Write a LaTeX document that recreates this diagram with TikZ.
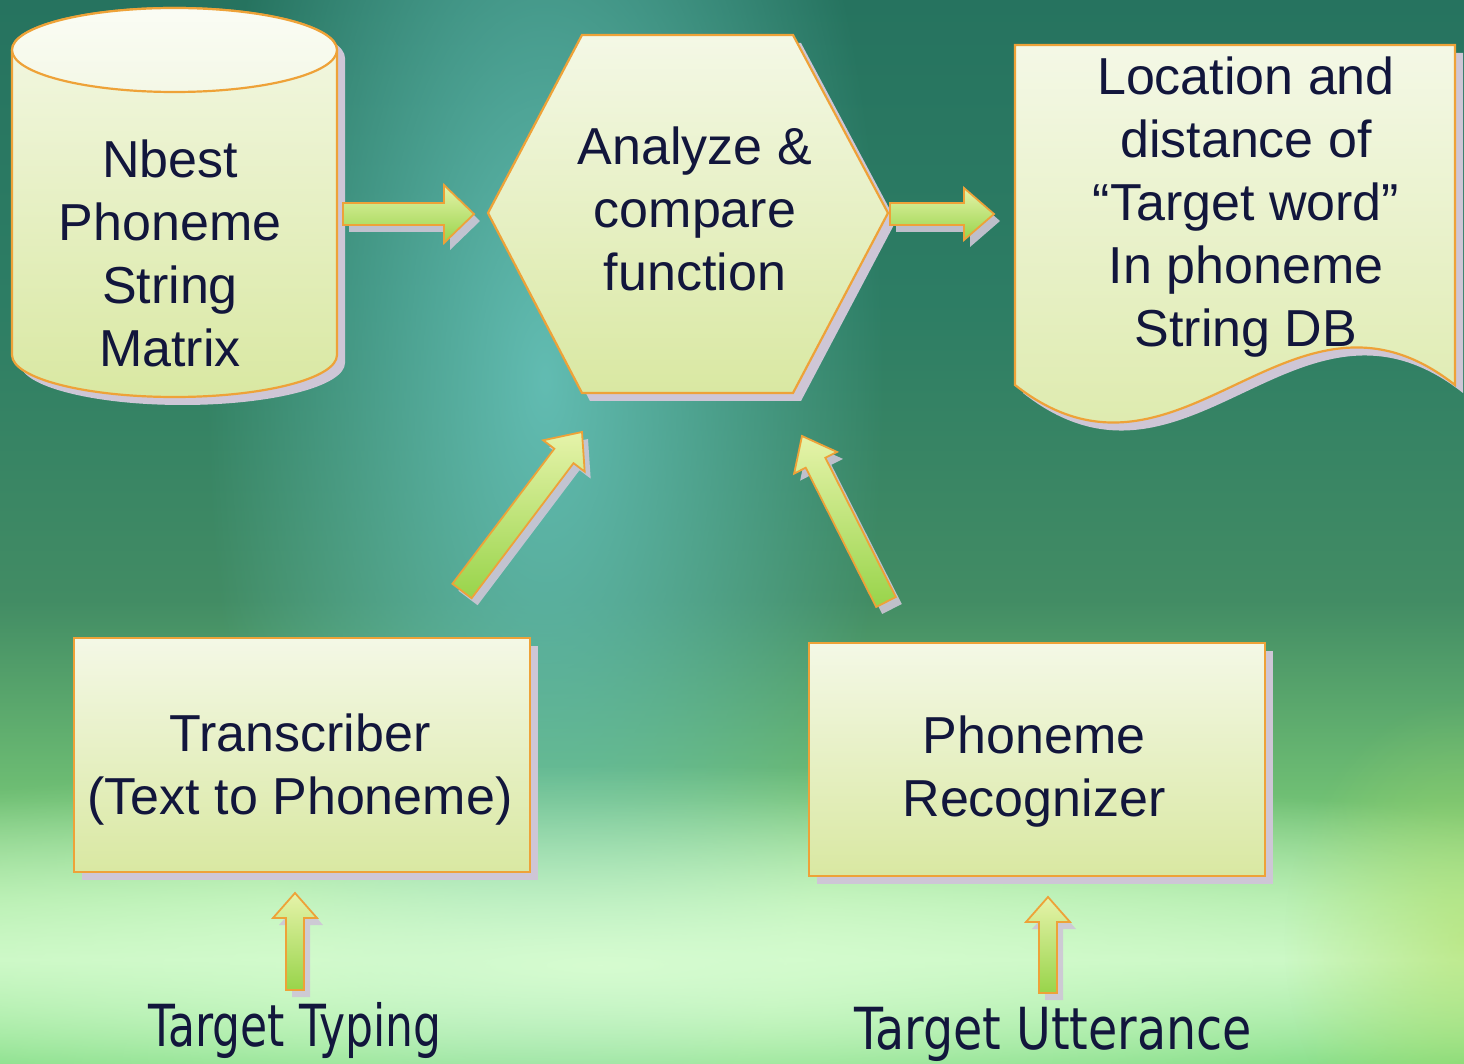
\documentclass[tikz,border=0pt]{standalone}
\usepackage{fontspec}
\usepackage{graphicx}
\setmainfont{Liberation Sans}
\newfontfamily\labelfont{DejaVu Sans}
\usetikzlibrary{calc,fadings}

% palette
\definecolor{inkblue}{HTML}{12163C}
\definecolor{edgeorange}{HTML}{EEA238}
\definecolor{boxtop}{HTML}{F4F8E6}
\definecolor{boxbottom}{HTML}{D9E8A2}
\definecolor{dropshade}{HTML}{CEC6D6}
\definecolor{arrowtop}{HTML}{E6F3AA}
\definecolor{arrowbottom}{HTML}{98D44A}
\definecolor{bgtop}{RGB}{38,115,95}
\definecolor{bgupper}{RGB}{45,125,100}
\definecolor{bgmid}{RGB}{66,140,100}
\definecolor{bglow}{RGB}{112,192,116}
\definecolor{bgpale}{RGB}{168,232,162}
\definecolor{bgband}{RGB}{196,246,190}
\definecolor{bgfoot}{RGB}{112,214,116}
\definecolor{tealglow}{RGB}{98,188,178}
\definecolor{paleglow}{RGB}{214,252,208}
\definecolor{limeglow}{RGB}{180,222,96}

% backdrop: dark green at the top, pale band near the foot
\pgfdeclareverticalshading{backdrop}{100bp}{%
  color(0bp)=(bgfoot); color(25bp)=(bgfoot); color(29.9bp)=(bgband);
  color(32.7bp)=(bgpale); color(37.4bp)=(bglow); color(46.8bp)=(bgmid);
  color(60.9bp)=(bgupper); color(75bp)=(bgtop); color(100bp)=(bgtop)}
\tikzfading[name=glowfade, inner color=transparent!0, outer color=transparent!100]
\tikzfading[name=softfade, inner color=transparent!45, outer color=transparent!100]

\tikzset{
  shapebody/.style={draw=edgeorange, line width=1.1pt, top color=boxtop, bottom color=boxbottom},
  castshade/.style={fill=dropshade, transform canvas={shift={(8,8)}}},
  caption/.style={text=inkblue, font=\fontsize{26}{31.5}\selectfont, align=center, inner sep=0pt},
  inputlabel/.style={text=inkblue, font=\labelfont\fontsize{29}{34}\selectfont, inner sep=0pt},
  arrowbody/.style={draw=edgeorange, line width=0.9pt, line join=miter, top color=arrowtop, bottom color=arrowbottom},
  arrowshade/.style={fill=dropshade, opacity=0.9, transform canvas={shift={(6,7)}}}
}

% block arrow from a tail point to a tip point
% #1 name prefix, #2 tail, #3 tip, #4 half shaft, #5 half head, #6 head length
\newcommand\flowarrow[6]{%
  \coordinate (#1h) at ($(#3)!#6!(#2)$);
  \coordinate (#1a) at ($(#2)!#4!90:(#3)$);
  \coordinate (#1b) at ($(#1h)!#4!-90:(#2)$);
  \coordinate (#1c) at ($(#1h)!#5!-90:(#2)$);
  \coordinate (#1d) at ($(#1h)!#5!90:(#2)$);
  \coordinate (#1e) at ($(#1h)!#4!90:(#2)$);
  \coordinate (#1f) at ($(#2)!#4!-90:(#3)$);
  \path[arrowshade] (#1a)--(#1b)--(#1c)--(#3)--(#1d)--(#1e)--(#1f)--cycle;
  \path[arrowbody] (#1a)--(#1b)--(#1c)--(#3)--(#1d)--(#1e)--(#1f)--cycle;
}

\begin{document}
\begin{tikzpicture}[x=0.5pt,y=-0.5pt]
\useasboundingbox (0,0) rectangle (1464,1064);

% background
\begin{scope}
  \clip (0,0) rectangle (1464,1064);
  \fill[shading=backdrop] (0,0) rectangle (1464,1064);
  \fill[tealglow, path fading=glowfade] (545,380) ellipse [x radius=340, y radius=820];
  \fill[paleglow, path fading=glowfade] (600,965) ellipse [x radius=1300, y radius=200];
  \fill[limeglow, path fading=softfade] (1464,940) ellipse [x radius=180, y radius=240];
\end{scope}

% database cylinder
\path[castshade] (12,50) -- (12,355) arc[start angle=180, end angle=0, x radius=162.5, y radius=42]
  -- (337,50) arc[start angle=0, end angle=-180, x radius=162.5, y radius=42] -- cycle;
\path[shapebody] (12,50) -- (12,355) arc[start angle=180, end angle=0, x radius=162.5, y radius=42]
  -- (337,50) arc[start angle=0, end angle=-180, x radius=162.5, y radius=42] -- cycle;
\path[draw=edgeorange, line width=1.1pt, top color=white!60!boxtop, bottom color=boxtop]
  (174.5,50) ellipse [x radius=162.5, y radius=42];

% hexagon
\path[castshade] (488,213)--(582,35)--(793,35)--(888,213)--(793,393)--(582,393)--cycle;
\path[shapebody] (488,213)--(582,35)--(793,35)--(888,213)--(793,393)--(582,393)--cycle;

% document
\path[castshade] (1015,45)--(1455,45)--(1455,385) .. controls (1290,255) and (1180,515) .. (1015,385) -- cycle;
\path[shapebody] (1015,45)--(1455,45)--(1455,385) .. controls (1290,255) and (1180,515) .. (1015,385) -- cycle;

% process boxes
\path[castshade] (74,638) rectangle (530,872);
\path[shapebody] (74,638) rectangle (530,872);
\path[castshade] (809,643) rectangle (1265,876);
\path[shapebody] (809,643) rectangle (1265,876);

% texts
\node[caption] (db) at (170,253) {Nbest\\Phoneme\\String\\Matrix};
\node[caption] (cmp) at (695,209) {Analyze \&\\compare\\function};
\node[caption] (out) at (1246,207) {Location and\\distance of\\“Target word”\\In phoneme\\String DB};
\node[caption] (tr) at (300,770) {Transcriber\\(Text to Phoneme)};
\node[caption] (pr) at (1034,772) {Phoneme\\Recognizer};
\node[inputlabel, anchor=base] (tt) at (295,1046) {\scalebox{0.76}[1]{Target Typing}};
\node[inputlabel, anchor=base] (tu) at (1053,1049) {\scalebox{0.82}[1]{Target Utterance}};

% arrow end points
\coordinate (a1s) at (343,214);  \coordinate (a1e) at (474,214);
\coordinate (a2s) at (890,214);  \coordinate (a2e) at (994,214);
\coordinate (a3s) at (462,591);  \coordinate (a3e) at (582,432);
\coordinate (a4s) at (886,602);  \coordinate (a4e) at (802,436);
\coordinate (a5s) at (295,990);  \coordinate (a5e) at (295,893);
\coordinate (a6s) at (1048,993); \coordinate (a6e) at (1048,897);

% flow arrows
\flowarrow{r1}{a1s}{a1e}{5.5pt}{14.5pt}{15pt}
\flowarrow{r2}{a2s}{a2e}{5.5pt}{13pt}{15pt}
\flowarrow{r3}{a3s}{a3e}{6pt}{13pt}{15pt}
\flowarrow{r4}{a4s}{a4e}{5.5pt}{12pt}{15pt}
\flowarrow{r5}{a5s}{a5e}{4.5pt}{11pt}{12.5pt}
\flowarrow{r6}{a6s}{a6e}{4.5pt}{11pt}{12.5pt}
\end{tikzpicture}
\end{document}
